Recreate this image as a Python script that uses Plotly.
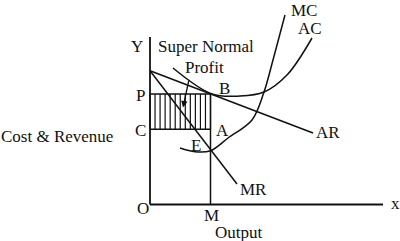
import numpy as np
import plotly.graph_objects as go

# Economic quantities (data units: output on x, cost/revenue on y)
P = 110.5
C = 75.2
M = 60.5
E_y = 53.8

ar_x = [0, 163]
ar_y = [133.8, 71.5]

mr_x = [0, 87]
mr_y = [133.8, 20.5]

ac_x = [23, 62, 90, 114, 137, 162]
ac_y = [136.5, 110.5, 108.5, 112.5, 129.5, 166.5]

mc_x = [30, 45, 60.5, 78, 102, 114, 123, 135]
mc_y = [56.5, 52.8, 53.8, 66.5, 84.5, 112.5, 144.5, 189.5]

y_axis_top = 167.5
x_axis_end = 233

labels = [
    ("Y", -13, 158.5), ("Super Normal", 56, 158.5), ("Profit", 54, 137.5),
    ("P", -10, 109.5), ("B", 74, 116.5), ("C", -10, 74.5), ("A", 72, 74.5),
    ("E", 46, 59.5), ("MR", 103, 15.5), ("AR", 178, 72.5), ("MC", 154, 194.5),
    ("AC", 160, 176.5), ("O", -7, -3.5), ("M", 61, -10.5), ("Output", 89, -27.5),
    ("x", 245, 1.5), ("Cost & Revenue", -93, 68.5),
]

FONT = "Liberation Serif"
BLACK = "#111"

fig = go.Figure()

def line(x, y, w=1.5, shape="linear"):
    fig.add_trace(go.Scatter(x=x, y=y, mode="lines",
                             line=dict(color=BLACK, width=w, shape=shape),
                             hoverinfo="skip", showlegend=False))

# axes
line([0, 0], [0, y_axis_top], 1.8)
line([0, x_axis_end], [0, 0], 1.8)

# hatching inside profit rectangle
hx = np.linspace(0, M, 13)
hxs, hys = [], []
for xv in hx:
    hxs += [xv, xv, None]
    hys += [C, P, None]
line(hxs, hys, 1.2)

# rectangle edges
line([0, M], [P, P], 1.5)
line([0, M], [C, C], 1.5)
line([M, M], [0, P], 1.5)

# AR, MR
line(ar_x, ar_y, 1.5)
line(mr_x, mr_y, 1.5)

# AC, MC
line(ac_x, ac_y, 1.5, "spline")
line(mc_x, mc_y, 1.5, "spline")

for t, x, y in labels:
    fig.add_annotation(x=x, y=y, text=t, showarrow=False,
                       font=dict(family=FONT, size=17, color=BLACK),
                       xanchor="center", yanchor="middle")

# arrow from "Profit" into the rectangle
fig.add_annotation(x=33, y=97, ax=39, ay=125, axref="x", ayref="y",
                   xref="x", yref="y", text="", showarrow=True,
                   arrowhead=2, arrowsize=1, arrowwidth=1.3, arrowcolor=BLACK)

fig.update_layout(
    width=400, height=241, margin=dict(l=0, r=0, t=0, b=0),
    paper_bgcolor="white", plot_bgcolor="white",
    xaxis=dict(range=[-150, 250], visible=False, fixedrange=True),
    yaxis=dict(range=[-36.5, 204.5], visible=False, fixedrange=True),
    showlegend=False,
)

fig.write_html("out.html")
